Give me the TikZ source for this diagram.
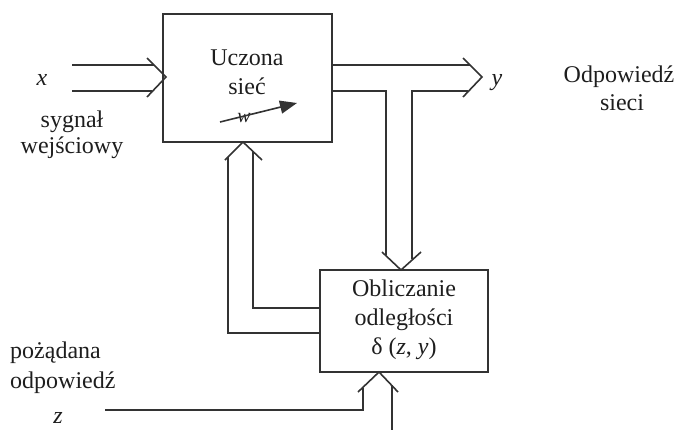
\documentclass[tikz,border=0pt]{standalone}
\usepackage{fontspec}
\setmainfont{Liberation Serif}
\usetikzlibrary{arrows.meta,calc}
\definecolor{ln}{HTML}{333333}
\definecolor{txt}{HTML}{1E1E1E}
\begin{document}
\begin{tikzpicture}[x=1pt,y=-1pt,
  box/.style={draw=ln, line width=1.6pt, inner sep=0pt},
  wire/.style={draw=ln, line width=1.6pt, line join=miter},
  chev/.style={draw=ln, line width=1.6pt, line join=miter},
  lbl/.style={font=\fontsize{24}{28}\selectfont, text=txt, anchor=base, inner sep=0pt},
  lbll/.style={lbl, anchor=base west},
  ital/.style={lbl, font=\fontsize{24}{28}\selectfont\itshape}]
\useasboundingbox (0,0) rectangle (679,429);

% boxes
\node[box, minimum width=169pt, minimum height=128pt] (net) at (247.5,78) {};
\node[box, minimum width=168pt, minimum height=102pt] (dist) at (404,321) {};

% chevron tips
\coordinate (inTip) at (166,77);
\coordinate (outTip) at (482,77);
\coordinate (netS) at (243,142);
\coordinate (distN) at (401,270);
\coordinate (distS) at (379,372);

% texts
\node[lbl] (t1) at (247,65) {Uczona};
\node[lbl] (t2) at (247,94) {sieć};
\node[ital, font=\fontsize{20}{24}\selectfont\itshape] (wl) at (244,122) {w};
\node[ital] (xl) at (42,85) {x};
\node[lbl] (s1) at (72,127) {sygnał};
\node[lbl] (s2) at (72,153) {wejściowy};
\node[ital] (yl) at (497,85) {y};
\node[lbl] (o1) at (619,82) {Odpowiedź};
\node[lbl] (o2) at (622,110) {sieci};
\node[lbl] (d1) at (404,296) {Obliczanie};
\node[lbl] (d2) at (404,325) {odległości};
\node[lbl] (d3) at (404,354) {δ (\textit{z}, \textit{y})};
\node[lbll] (p1) at (10,358) {pożądana};
\node[lbll] (p2) at (10,388) {odpowiedź};
\node[ital] (zl) at (58,423) {z};

% weight arrow
\coordinate (wa) at (220,122);
\coordinate (wb) at (297,103);
\draw[draw=ln, line width=1.6pt, -{Triangle[length=17pt,width=13pt]}] (wa) -- (wb);

% input x (double line with open chevron)
\coordinate (xa1) at (72,65);
\coordinate (xa2) at (72,91);
\draw[wire] (xa1) -- ($(inTip)+(-12,-12)$);
\draw[wire] (xa2) -- ($(inTip)+(-14,14)$);
\draw[chev] ($(inTip)+(-19,-19)$) -- (inTip) -- ($(inTip)+(-19,20)$);

% output y
\draw[wire] (net.east |- 0,65) -- ($(outTip)+(-12,-12)$);
\draw[wire] (net.east |- 0,91) -- (386,91) -- ($(distN)+(-15,-15)$);
\draw[wire] ($(distN)+(11,-11)$) -- (412,91) -- ($(outTip)+(-14,14)$);
\draw[chev] ($(outTip)+(-19,-19)$) -- (outTip) -- ($(outTip)+(-19,20)$);
\draw[chev] ($(distN)+(-19,-18)$) -- (distN) -- ($(distN)+(20,-18)$);

% feedback to net
\draw[wire] ($(netS)+(-15,15)$) -- (228,333) -- (dist.west |- 0,333);
\draw[wire] ($(netS)+(10,10)$) -- (253,308) -- (dist.west |- 0,308);
\draw[chev] ($(netS)+(-18,18)$) -- (netS) -- ($(netS)+(19,18)$);

% desired response z
\draw[wire] (105,410) -- (363,410) -- ($(distS)+(-16,16)$);
\draw[wire] ($(distS)+(13,13)$) -- (392,435);
\draw[chev] ($(distS)+(-21,20)$) -- (distS) -- ($(distS)+(19,20)$);
\end{tikzpicture}
\end{document}
